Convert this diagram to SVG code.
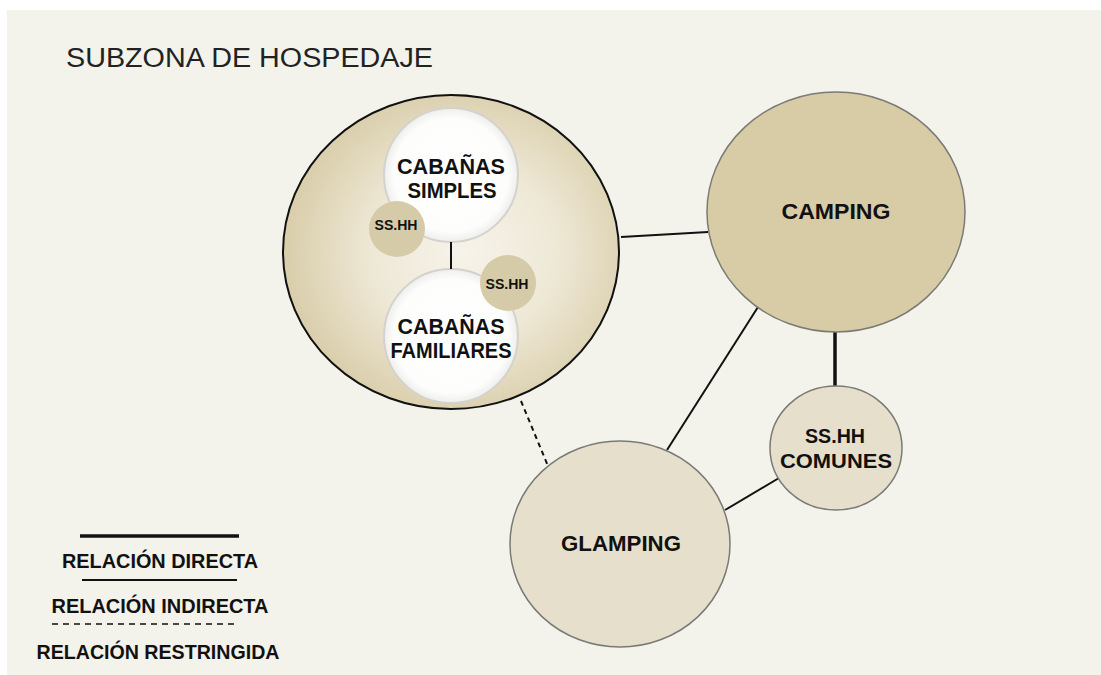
<svg xmlns="http://www.w3.org/2000/svg" width="1101" height="675" viewBox="0 0 1101 675">
  <defs>
    <radialGradient id="gBig" cx="0.54" cy="0.5" r="0.55">
      <stop offset="0" stop-color="#f6f3ea"/>
      <stop offset="0.5" stop-color="#eee8d6"/>
      <stop offset="1" stop-color="#d8cca8"/>
    </radialGradient>
    <radialGradient id="gWhite" cx="0.5" cy="0.5" r="0.5">
      <stop offset="0" stop-color="#ffffff"/>
      <stop offset="0.85" stop-color="#fdfdfc"/>
      <stop offset="1" stop-color="#eeeeec"/>
    </radialGradient>
  </defs>
  <style>
    .lbl { font-family: "Liberation Sans", Arial, sans-serif; font-weight: bold; fill: #111; text-anchor: middle; }
    .conn { stroke: #111; fill: none; }
    .node { stroke: #7a7a76; stroke-width: 1.5; }
    .white { fill: url(#gWhite); stroke: #d4d2cc; stroke-width: 2; }
    .small { fill: #d6cba8; }
  </style>
  <rect x="0" y="0" width="1101" height="675" fill="#ffffff"/>
  <rect x="7" y="10" width="1094" height="665" fill="#f3f2eb"/>

  <text x="66" y="67" font-family="'Liberation Sans', Arial, sans-serif" font-size="27" fill="#222" textLength="367" lengthAdjust="spacingAndGlyphs">SUBZONA DE HOSPEDAJE</text>

  <g id="connectors">
    <line class="conn" stroke-width="2" x1="621" y1="237" x2="708" y2="232"/>
    <line class="conn" stroke-width="3.5" x1="835" y1="331" x2="835" y2="388"/>
    <line class="conn" stroke-width="2" x1="758" y1="307" x2="667" y2="450"/>
    <line class="conn" stroke-width="2" x1="725" y1="510" x2="779" y2="478"/>
    <line class="conn" stroke-width="2" x1="521" y1="401" x2="548" y2="466" stroke-dasharray="5,4"/>
  </g>

  <g id="hospedaje-cabanas">
    <ellipse cx="451" cy="252" rx="168" ry="157" fill="url(#gBig)" stroke="#111" stroke-width="2"/>
  </g>
  <g id="cabanas-simples">
    <circle class="white" cx="451" cy="175" r="67"/>
    <text class="lbl" x="451" y="174" font-size="22" textLength="108" lengthAdjust="spacingAndGlyphs">CABAÑAS</text>
    <text class="lbl" x="452" y="198" font-size="22" textLength="89" lengthAdjust="spacingAndGlyphs">SIMPLES</text>
  </g>
  <g id="cabanas-familiares">
    <circle class="white" cx="451" cy="336" r="67"/>
    <text class="lbl" x="451" y="334" font-size="22" textLength="107" lengthAdjust="spacingAndGlyphs">CABAÑAS</text>
    <text class="lbl" x="451" y="358" font-size="22" textLength="121" lengthAdjust="spacingAndGlyphs">FAMILIARES</text>
  </g>
  <g id="link-cabanas">
    <line class="conn" stroke-width="2" x1="451" y1="242" x2="451" y2="269"/>
  </g>
  <g id="sshh-simples">
    <circle class="small" cx="397" cy="229" r="28"/>
    <text class="lbl" x="396" y="230" font-size="14" textLength="43" lengthAdjust="spacingAndGlyphs">SS.HH</text>
  </g>
  <g id="sshh-familiares">
    <circle class="small" cx="508" cy="283" r="28"/>
    <text class="lbl" x="507" y="289" font-size="14" textLength="43" lengthAdjust="spacingAndGlyphs">SS.HH</text>
  </g>

  <g id="camping">
    <ellipse class="node" cx="836" cy="212" rx="129" ry="120" fill="#d8cca6"/>
    <text class="lbl" x="836" y="219" font-size="22" textLength="109" lengthAdjust="spacingAndGlyphs">CAMPING</text>
  </g>
  <g id="sshh-comunes">
    <ellipse class="node" cx="836" cy="448" rx="66" ry="62" fill="#e6dfcb"/>
    <text class="lbl" x="835" y="443" font-size="21" textLength="60" lengthAdjust="spacingAndGlyphs">SS.HH</text>
    <text class="lbl" x="836" y="468" font-size="21" textLength="112" lengthAdjust="spacingAndGlyphs">COMUNES</text>
  </g>
  <g id="glamping">
    <ellipse class="node" cx="620" cy="544" rx="110" ry="103" fill="#e6dfcb"/>
    <text class="lbl" x="621" y="551" font-size="22" textLength="120" lengthAdjust="spacingAndGlyphs">GLAMPING</text>
  </g>

  <g id="legend">
    <line x1="80" y1="536" x2="239" y2="536" stroke="#111" stroke-width="3.5"/>
    <text class="lbl" x="160" y="568" font-size="21" textLength="196" lengthAdjust="spacingAndGlyphs">RELACIÓN DIRECTA</text>
    <line x1="82" y1="580" x2="237" y2="580" stroke="#111" stroke-width="2"/>
    <text class="lbl" x="160" y="613" font-size="21" textLength="217" lengthAdjust="spacingAndGlyphs">RELACIÓN INDIRECTA</text>
    <line x1="52" y1="624" x2="238" y2="624" stroke="#111" stroke-width="1.5" stroke-dasharray="6,5"/>
    <text class="lbl" x="158" y="659" font-size="21" textLength="243" lengthAdjust="spacingAndGlyphs">RELACIÓN RESTRINGIDA</text>
  </g>
</svg>
